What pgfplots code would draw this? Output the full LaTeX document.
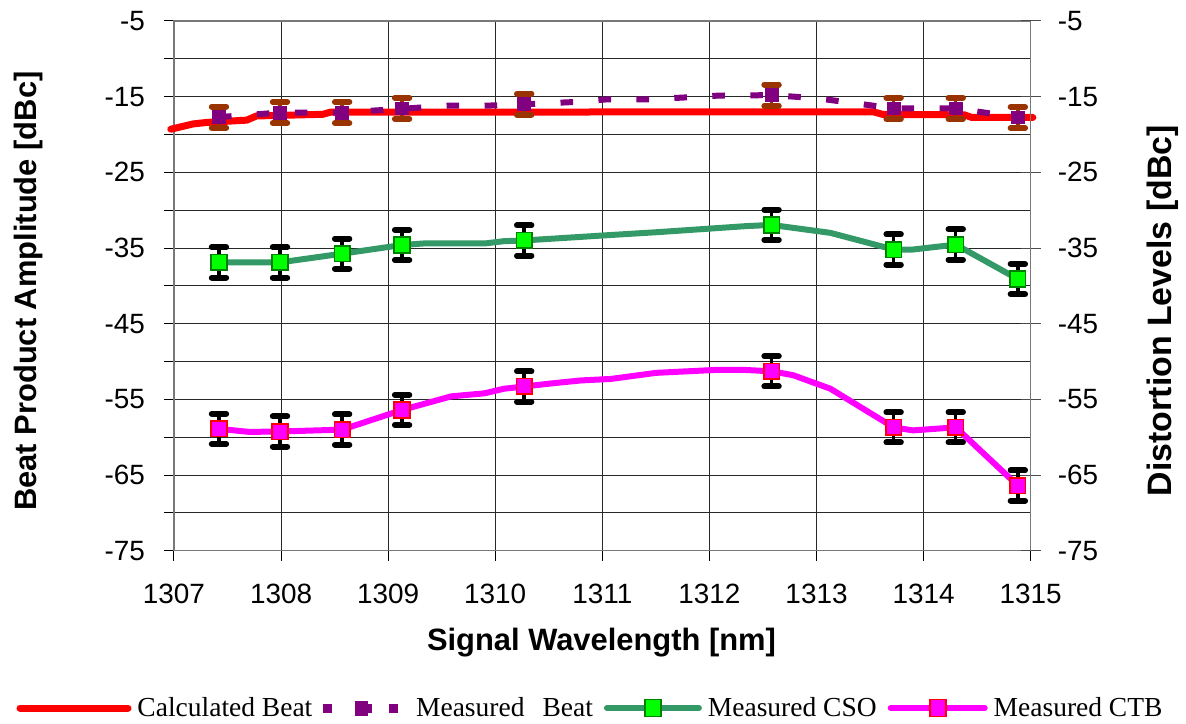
\documentclass[border=0pt]{standalone}
\usepackage{pgfplots}
\pgfplotsset{compat=1.18}
\usepackage{fontspec}
\setmainfont{Liberation Sans}
\newfontfamily\legfont{Liberation Serif}
\definecolor{beatred}{RGB}{255,0,0}
\definecolor{beatpurple}{RGB}{128,0,128}
\definecolor{errbrown}{RGB}{153,51,0}
\definecolor{csoline}{RGB}{51,153,102}
\definecolor{csofill}{RGB}{0,255,0}
\definecolor{csodraw}{RGB}{0,128,0}
\definecolor{ctbline}{RGB}{255,0,255}
\definecolor{gridc}{RGB}{40,40,40}
\definecolor{axc}{RGB}{120,120,120}

\pgfplotstableread{
x y
1306.97 -19.3
1307.18 -18.6
1307.31 -18.4
1307.68 -18.1
1307.77 -17.55
1308.39 -17.33
1308.46 -17.05
1313.53 -17.0
1313.62 -17.35
1314.38 -17.4
1314.45 -17.75
1315.02 -17.75
}\calcbeat

\pgfplotstableread{
x y
1307.42 -17.7
1307.99 -17.1
1308.57 -17.1
1309.13 -16.6
1309.55 -16.2
1309.9 -16.2
1310.27 -16.0
1310.75 -15.7
1311.05 -15.35
1311.45 -15.35
1312.1 -14.85
1312.58 -14.8
1313.0 -15.2
1313.72 -16.55
1314.3 -16.55
1314.88 -17.75
}\measbeatline

\pgfplotstableread{
x y e
1307.42 -17.7 1.4
1307.99 -17.1 1.4
1308.57 -17.1 1.4
1309.13 -16.55 1.4
1310.27 -16.0 1.4
1312.58 -14.8 1.4
1313.72 -16.55 1.4
1314.30 -16.55 1.4
1314.88 -17.75 1.4
}\measbeat

\pgfplotstableread{
x y
1307.42 -36.9
1307.99 -36.9
1308.57 -35.75
1309.13 -34.6
1309.33 -34.4
1309.9 -34.4
1310.08 -34.1
1310.27 -34.0
1311.0 -33.35
1311.52 -32.9
1312.35 -32.1
1312.58 -31.95
1313.13 -33.0
1313.72 -35.2
1313.9 -35.2
1314.3 -34.55
1314.88 -39.1
}\csoline

\pgfplotstableread{
x y e
1307.42 -36.9 2.0
1307.99 -36.9 2.0
1308.57 -35.75 2.0
1309.13 -34.6 2.0
1310.27 -34.0 2.0
1312.58 -31.95 2.0
1313.72 -35.2 2.0
1314.30 -34.55 2.0
1314.88 -39.1 2.0
}\csomeas

\pgfplotstableread{
x y
1307.42 -58.9
1307.7 -59.3
1307.99 -59.25
1308.57 -59.0
1309.13 -56.4
1309.59 -54.6
1309.9 -54.2
1310.08 -53.6
1310.27 -53.3
1310.52 -52.9
1310.8 -52.5
1311.08 -52.3
1311.5 -51.5
1312.07 -51.1
1312.32 -51.1
1312.58 -51.3
1312.78 -51.8
1313.13 -53.6
1313.72 -58.7
1313.9 -59.1
1314.3 -58.7
1314.88 -66.4
}\ctbline

\pgfplotstableread{
x y e
1307.42 -58.9 2.0
1307.99 -59.25 2.0
1308.57 -59.0 2.0
1309.13 -56.4 2.0
1310.27 -53.3 2.0
1312.58 -51.3 2.0
1313.72 -58.7 2.0
1314.30 -58.7 2.0
1314.88 -66.4 2.0
}\ctbmeas

\begin{document}
\begin{tikzpicture}
\useasboundingbox (-87bp,-86.65bp) rectangle (506bp,275.35bp);
\begin{axis}[
  at={(0,0)}, anchor=south west, scale only axis,
  width=428.35bp, height=264.85bp,
  xmin=1307, xmax=1315, ymin=-75, ymax=-5,
  xtick={1307,1308,...,1315}, minor x tick num=1,
  ytick={-75,-70,...,-5},
  yticklabels={-75,,-65,,-55,,-45,,-35,,-25,,-15,,-5},
  xtick pos=bottom, ytick pos=left, tick align=outside,
  major tick length=5bp, minor tick length=0bp,
  grid=both,
  major grid style={gridc, line width=0.5bp},
  minor grid style={gridc, line width=0.5bp},
  axis line style={axc, line width=0.75bp},
  tick style={black, line width=0.5bp},
  /pgf/number format/1000 sep={},
  /pgf/number format/assume math mode=true,
  tick label style={font=\fontsize{14}{16}\selectfont, black},
  xticklabel style={yshift=-8bp},
  yticklabel style={xshift=-6bp},
  xlabel={Signal Wavelength [nm]},
  ylabel={Beat Product Amplitude [dBc]},
  every axis x label/.style={at={(axis description cs:0.499,-0.1743)}, anchor=center, font=\bfseries\fontsize{15.5}{18}\selectfont},
  every axis y label/.style={at={(axis description cs:-0.1704,0.49)}, anchor=center, rotate=90, font=\bfseries\fontsize{15.5}{18}\selectfont},
  clip=false,
  legend style={at={(axis description cs:0.4885,-0.297)}, anchor=center, draw=none, fill=none,
    legend columns=4, font=\legfont\fontsize{13.8}{15}\selectfont,
    /tikz/every even column/.append style={column sep=2.5bp},
    nodes={inner sep=3bp}},
  legend cell align=left,
]
% legend images
\addlegendimage{legend image code/.code={\draw[beatred, line width=3.5bp, line cap=round] (0bp,0bp) -- (54bp,0bp);}}
\addlegendentry{Calculated Beat}
\addlegendimage{legend image code/.code={
  \fill[beatpurple] (0bp,-2bp) rectangle (4bp,2bp);
  \fill[beatpurple] (16bp,-3.5bp) rectangle (22bp,3.5bp);
  \fill[beatpurple] (21bp,-2bp) rectangle (24bp,2bp);
  \fill[beatpurple] (33bp,-2bp) rectangle (37bp,2bp);}}
\addlegendentry{\hspace{6bp}Measured\hspace{9bp}Beat}
\addlegendimage{legend image code/.code={
  \draw[csoline, line width=3bp, line cap=round] (0bp,0bp) -- (46bp,0bp);
  \draw[csodraw, fill=csofill, line width=0.8bp] (19bp,-4.2bp) rectangle (27bp,4.2bp);}}
\addlegendentry{Measured CSO}
\addlegendimage{legend image code/.code={
  \draw[ctbline, line width=3bp, line cap=round] (0bp,0bp) -- (47bp,0bp);
  \draw[beatred, fill=ctbline, line width=0.8bp] (19.5bp,-4.2bp) rectangle (27.5bp,4.2bp);}}
\addlegendentry{Measured CTB}

% data
\addplot[beatred, line width=3.5bp, line cap=round, line join=round, forget plot] table[x=x,y=y] {\calcbeat};
\addplot[beatpurple, line width=3bp, dash pattern=on 6.3bp off 12.7bp, forget plot] table[x=x,y=y] {\measbeatline};
\addplot[only marks, mark=square*, mark size=3.2bp, mark options={fill=beatpurple, draw=beatpurple, solid},
  forget plot,
  error bars/.cd, y dir=both, y explicit,
  error bar style={errbrown, line width=1.7bp},
  error mark options={rotate=90, errbrown, line width=3bp, mark size=3.6bp, line cap=round}]
  table[x=x,y=y,y error=e] {\measbeat};

\addplot[csoline, line width=3bp, line join=round, forget plot] table[x=x,y=y] {\csoline};
\addplot[only marks, mark=square*, mark size=3.9bp, mark options={fill=csofill, draw=csodraw, line width=0.8bp},
  forget plot,
  error bars/.cd, y dir=both, y explicit,
  error bar style={black, line width=1.7bp},
  error mark options={rotate=90, black, line width=3bp, mark size=3.6bp, line cap=round}]
  table[x=x,y=y,y error=e] {\csomeas};

\addplot[ctbline, line width=3bp, line join=round, forget plot] table[x=x,y=y] {\ctbline};
\addplot[only marks, mark=square*, mark size=3.9bp, mark options={fill=ctbline, draw=beatred, line width=0.8bp},
  forget plot,
  error bars/.cd, y dir=both, y explicit,
  error bar style={black, line width=1.7bp},
  error mark options={rotate=90, black, line width=3bp, mark size=3.6bp, line cap=round}]
  table[x=x,y=y,y error=e] {\ctbmeas};
\end{axis}

\begin{axis}[
  at={(0,0)}, anchor=south west, scale only axis,
  width=428.35bp, height=264.85bp,
  xmin=1307, xmax=1315, ymin=-75, ymax=-5,
  axis x line=none, axis y line*=right,
  ytick={-75,-65,...,-5},
  yticklabels={-75,-65,-55,-45,-35,-25,-15,-5},
  tick align=center, major tick length=10bp,
  axis line style={axc, line width=0.75bp},
  tick style={black!70, line width=0.5bp},
  tick label style={font=\fontsize{14}{16}\selectfont, black},
  yticklabel style={xshift=5bp},
  ylabel={Distortion Levels [dBc]},
  every axis y label/.style={at={(axis description cs:1.154,0.453)}, anchor=center, rotate=90, font=\bfseries\fontsize{17}{19}\selectfont},
]
\end{axis}
\end{tikzpicture}
\end{document}
